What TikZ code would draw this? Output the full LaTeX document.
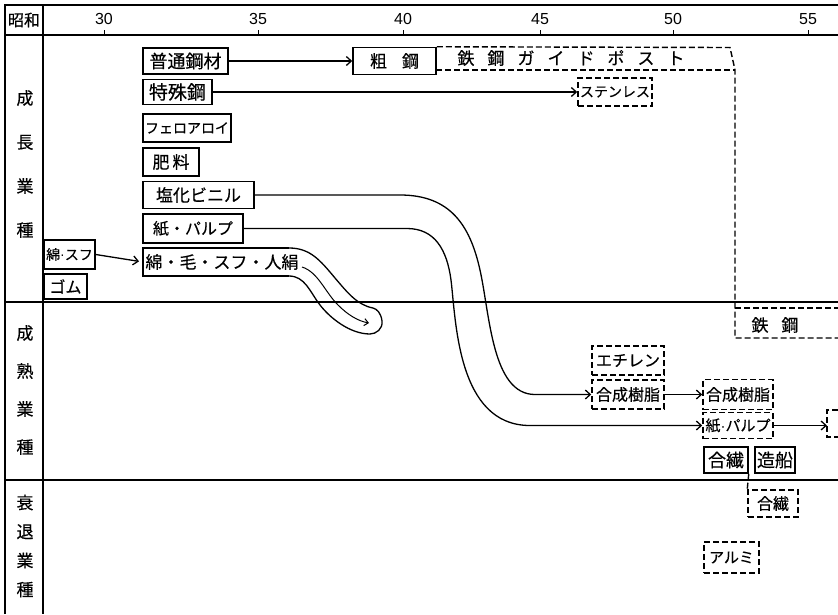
\documentclass[tikz,border=0pt]{standalone}
\usepackage{fontspec}
\setmainfont{Liberation Sans}
\newfontfamily\cjk[FakeBold=0.4]{Noto Sans CJK JP}
\newfontfamily\latinf{Liberation Sans}
\newcommand\mdot{{\latinf ·}}
\usetikzlibrary{arrows.meta}
\begin{document}
\begin{tikzpicture}[x=1pt,y=-1pt,
  frame/.style={line width=1.3pt},
  box/.style={draw, line width=1.5pt, inner sep=0pt, font=\cjk\fontsize{17}{17}\selectfont, minimum height=26pt},
  dbox/.style={box, dash pattern=on 6pt off 3pt},
  dline/.style={line width=1.4pt, dash pattern=on 6pt off 3pt},
  conn/.style={line width=1.3pt, -{Straight Barb[length=5pt,width=9pt]}},
  curve/.style={line width=1.3pt},
  lbl/.style={font=\cjk\fontsize{17}{17}\selectfont, inner sep=0pt},
  yr/.style={font=\latinf\fontsize{16}{16}\selectfont, inner sep=0pt},
  fs/.style={font=\cjk\fontsize{#1}{#1}\selectfont}
]
\fill[white] (0,0) rectangle (838,614);
\useasboundingbox (0,0) rectangle (838,614);

% frame
\draw[frame] (5,614) -- (5,5) -- (838,5);
\draw[line width=1.8pt] (5,35) -- (838,35);
\draw[frame] (43,5) -- (43,614);
\draw[frame] (5,302) -- (838,302);
\draw[frame] (5,480) -- (838,480);

% header
\node[lbl, fs=16] (showa) at (24,20) {昭和};
\foreach \x/\n in {104/30,258/35,403/40,540/45,673/50,808/55}{
  \draw[line width=1pt] (\x,30) -- (\x,35);
  \node[yr] (y\n) at (\x,19) {\n};
}

% row labels
\node[lbl, align=center, font=\cjk\fontsize{17}{44}\selectfont] (growth) at (25,164) {成\\長\\業\\種};
\node[lbl, align=center, font=\cjk\fontsize{17}{38}\selectfont] (mature) at (25,390) {成\\熟\\業\\種};
\node[lbl, align=center, font=\cjk\fontsize{17}{29}\selectfont] (decline) at (25,546) {衰\\退\\業\\種};

% growth boxes
\node[box, fs=18, minimum width=85pt] (futsuu) at (185.5,61) {普通鋼材};
\node[box, minimum width=83pt, minimum height=27pt] (sokou) at (394.5,61) {粗\hspace{15pt}鋼};
\node[box, fs=19, minimum width=69pt, minimum height=25pt] (tokushu) at (177.5,92) {特殊鋼};
\node[box, fs=14, minimum width=88pt, minimum height=28pt] (fero) at (187,128) {フェロアロイ};
\node[box, minimum width=56pt, minimum height=28pt] (hiryou) at (171,162) {肥\hspace{3pt}料};
\node[box, minimum width=111pt, minimum height=27pt] (enka) at (198.5,195) {塩化ビニル};
\node[box, fs=16, minimum width=100pt, minimum height=29pt] (kami) at (193,228.5) {紙・パルプ};
\node[box, fs=14, minimum width=51pt, minimum height=29pt] (mensufu) at (69.5,254.5) {綿\mdot スフ};
\node[box, fs=16, minimum width=43pt, minimum height=25pt] (gomu) at (65.5,286.5) {ゴム};

% men box + ribbon
\coordinate (menW) at (143,262);
\node[lbl] (men) at (222,262) {綿・毛・スフ・人絹};
\draw[line width=1.5pt] (289,248) -- (143,248) -- (143,276) -- (289,276);
\draw[curve] (289,276)
  .. controls (305,276) and (310,292) .. (320,305)
  .. controls (330,318) and (350,334) .. (370,334)
  .. controls (376,334) and (383,329) .. (382,321)
  .. controls (381,313) and (377,309) .. (373,308)
  .. controls (357,305) and (347,292) .. (335,278)
  .. controls (320,260) and (310,248) .. (289,248);
\coordinate (inS) at (302,267);
\coordinate (inE) at (369,323);
\draw[line width=1pt, -{Straight Barb[length=4pt,width=7pt]}] (inS)
  .. controls (318,272) and (325,292) .. (338,305)
  .. controls (348,315) and (358,321) .. (inE);

\draw[conn, shorten >=4pt] (mensufu.east) -- (menW);
\draw[conn] (futsuu.east) -- (sokou.west);

% guide post region
\node[lbl] (guide) at (571,58) {鉄\hspace{13pt}鋼\hspace{13pt}ガ\hspace{13pt}イ\hspace{13pt}ド\hspace{13pt}ポ\hspace{13pt}ス\hspace{13pt}ト};
\draw[dline] (sokou.north east) -- (730,47.5) -- (735,70) -- (735,338) -- (838,338);
\draw[dline] (436,70) -- (735,70);
\draw[dline] (735,308) -- (838,308);
\node[lbl] (tekkou) at (775,325) {鉄\hspace{13pt}鋼};

\node[dbox, fs=14, minimum width=74pt, minimum height=28pt] (sten) at (615,92) {ステンレス};
\draw[conn] (tokushu.east) -- (sten.west);

% mature boxes
\node[dbox, fs=16, minimum width=72pt, minimum height=29pt] (echiren) at (628,360.5) {エチレン};
\node[dbox, fs=16, minimum width=72pt, minimum height=29pt] (gousei1) at (628,394.5) {合成樹脂};
\node[dbox, fs=16, minimum width=70pt, minimum height=30pt] (gousei2) at (738,394.5) {合成樹脂};
\node[dbox, fs=15, minimum width=70pt, minimum height=26pt] (kami2) at (738,425.5) {紙\mdot パルプ};
\draw[dline] (838,410) -- (827,410) -- (827,437) -- (838,437);
\coordinate (partW) at (827,425.5);
\node[box, fs=18, minimum width=44pt] (gousen) at (726,460) {合繊};
\node[box, fs=18, minimum width=40pt] (zousen) at (775,460) {造船};

% decline boxes
\node[dbox, fs=16, minimum width=50pt, minimum height=27pt] (gousen2) at (773,503.5) {合繊};
\node[dbox, fs=15, minimum width=55pt, minimum height=31pt] (arumi) at (731.5,557.5) {アルミ};
\draw[dline] (gousen.south east) -- (gousen2.north west);

% long curves
\draw[curve, -{Straight Barb[length=5pt,width=9pt]}] (enka.east) -- (400,195)
  .. controls (450,195) and (470,225) .. (480,270)
  .. controls (490,315) and (492,394.5) .. (535,394.5) -- (gousei1.west);
\draw[curve, -{Straight Barb[length=5pt,width=9pt]}] (kami.east) -- (407,228.5)
  .. controls (435,228.5) and (447,250) .. (451,280)
  .. controls (456,320) and (457,425.5) .. (530,425.5) -- (kami2.west);
\draw[conn] (gousei1.east) -- (gousei2.west);
\draw[conn] (kami2.east) -- (partW);
\end{tikzpicture}
\end{document}
